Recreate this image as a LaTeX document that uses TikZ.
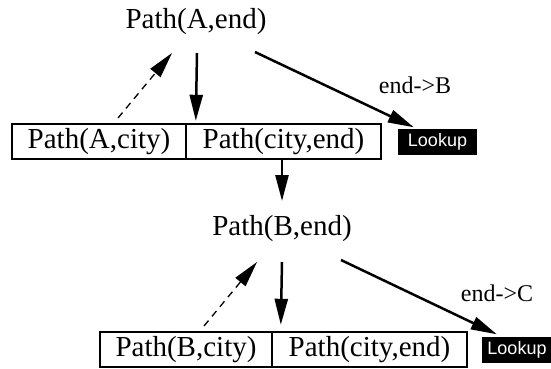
\documentclass[tikz,border=0pt]{standalone}
\usepackage{fontspec}
\setmainfont{Liberation Serif}
\newfontfamily\lookupfont{Liberation Sans}
\usetikzlibrary{arrows.meta,calc}
\begin{document}
\begin{tikzpicture}[x=1pt,y=-1pt,
  bigtext/.style={inner sep=0pt,font=\fontsize{29}{34}\selectfont},
  labeltext/.style={inner sep=0pt,font=\fontsize{24}{28}\selectfont},
  cellbox/.style={draw,line width=2.4pt,minimum height=35pt,inner sep=0pt,font=\fontsize{29}{34}\selectfont},
  lookupbox/.style={fill=black,text=white,minimum width=79pt,minimum height=26pt,inner sep=0pt,font=\lookupfont\fontsize{18}{21}\selectfont},
  solidarrow/.style={line width=2.5pt,-{Triangle[length=26pt,width=13pt]}},
  dasharrow/.style={line width=1.3pt,dash pattern=on 7pt off 5.5pt,-{Triangle[length=26pt,width=13pt]}}
]
\useasboundingbox (0,0) rectangle (551,368);
% first level
\node[bigtext] (aend) at (196,22) {Path(A,end)};
\node[cellbox,minimum width=174pt] (c1) at (99,141.5) {Path(A,city)};
\node[cellbox,minimum width=195pt] (c2) at (283.5,141.5) {Path(city,end)};
\node[lookupbox] (l1) at (437.5,141.5) {Lookup};
\node[labeltext] (eb) at (415,85) {end->B};
\draw[dasharrow] ($(c1)+(19,-23.5)$) -- ($(aend)+(-24,31)$);
\draw[solidarrow] ($(aend)+(1,31)$) -- ($(c2.north west)+(11,-2)$);
\draw[solidarrow] ($(aend)+(59,30)$) -- ($(l1.north west)+(16,-1)$);
% second level
\node[bigtext] (bend) at (282,229) {Path(B,end)};
\draw[solidarrow] ($(c2.south)+(-1.5,0)$) -- ($(bend)+(0,-28)$);
\node[cellbox,minimum width=172pt] (d1) at (186,349.5) {Path(B,city)};
\node[cellbox,minimum width=195pt] (d2) at (369.5,349.5) {Path(city,end)};
\node[lookupbox,minimum width=70pt] (l2) at (517,349.5) {Lookup};
\node[labeltext] (ec) at (497,293) {end->C};
\draw[dasharrow] ($(d1)+(18,-23.5)$) -- ($(bend)+(-25,33)$);
\draw[solidarrow] ($(bend)+(0,33)$) -- ($(d2.north west)+(10,-6)$);
\draw[solidarrow] ($(bend)+(59,31)$) -- ($(l2.north west)+(15,-2)$);
\end{tikzpicture}
\end{document}
